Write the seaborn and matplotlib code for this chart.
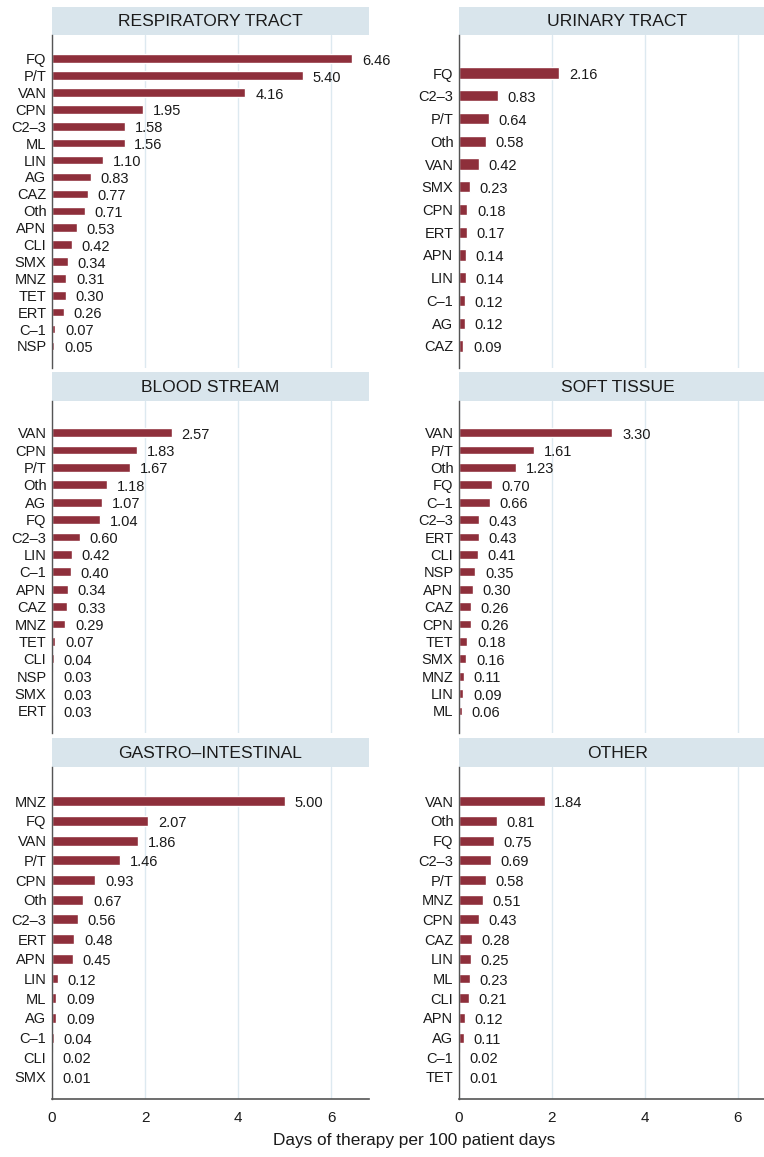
import numpy as np
import pandas as pd
import matplotlib
matplotlib.use("Agg")
import matplotlib.pyplot as plt
import seaborn as sns

# days of therapy per 100 patient days, by infection site
resp_drugs = ["FQ", "P/T", "VAN", "CPN", "C2–3", "ML", "LIN", "AG", "CAZ", "Oth",
              "APN", "CLI", "SMX", "MNZ", "TET", "ERT", "C–1", "NSP"]
resp_vals = [6.46, 5.40, 4.16, 1.95, 1.58, 1.56, 1.10, 0.83, 0.77, 0.71,
             0.53, 0.42, 0.34, 0.31, 0.30, 0.26, 0.07, 0.05]

uri_drugs = ["FQ", "C2–3", "P/T", "Oth", "VAN", "SMX", "CPN", "ERT", "APN", "LIN",
             "C–1", "AG", "CAZ"]
uri_vals = [2.16, 0.83, 0.64, 0.58, 0.42, 0.23, 0.18, 0.17, 0.14, 0.14,
            0.12, 0.12, 0.09]

blood_drugs = ["VAN", "CPN", "P/T", "Oth", "AG", "FQ", "C2–3", "LIN", "C–1", "APN",
               "CAZ", "MNZ", "TET", "CLI", "NSP", "SMX", "ERT"]
blood_vals = [2.57, 1.83, 1.67, 1.18, 1.07, 1.04, 0.60, 0.42, 0.40, 0.34,
              0.33, 0.29, 0.07, 0.04, 0.03, 0.03, 0.03]

soft_drugs = ["VAN", "P/T", "Oth", "FQ", "C–1", "C2–3", "ERT", "CLI", "NSP", "APN",
              "CAZ", "CPN", "TET", "SMX", "MNZ", "LIN", "ML"]
soft_vals = [3.30, 1.61, 1.23, 0.70, 0.66, 0.43, 0.43, 0.41, 0.35, 0.30,
             0.26, 0.26, 0.18, 0.16, 0.11, 0.09, 0.06]

gi_drugs = ["MNZ", "FQ", "VAN", "P/T", "CPN", "Oth", "C2–3", "ERT", "APN", "LIN",
            "ML", "AG", "C–1", "CLI", "SMX"]
gi_vals = [5.00, 2.07, 1.86, 1.46, 0.93, 0.67, 0.56, 0.48, 0.45, 0.12,
           0.09, 0.09, 0.04, 0.02, 0.01]

other_drugs = ["VAN", "Oth", "FQ", "C2–3", "P/T", "MNZ", "CPN", "CAZ", "LIN", "ML",
               "CLI", "APN", "AG", "C–1", "TET"]
other_vals = [1.84, 0.81, 0.75, 0.69, 0.58, 0.51, 0.43, 0.28, 0.25, 0.23,
              0.21, 0.12, 0.11, 0.02, 0.01]

panel_titles = ["RESPIRATORY TRACT", "URINARY TRACT", "BLOOD STREAM",
                "SOFT TISSUE", "GASTRO–INTESTINAL", "OTHER"]
panels = list(zip(panel_titles,
                  [resp_drugs, uri_drugs, blood_drugs, soft_drugs, gi_drugs, other_drugs],
                  [resp_vals, uri_vals, blood_vals, soft_vals, gi_vals, other_vals]))

sns.set_style("white")
plt.rcParams['font.family'] = ['Liberation Sans', 'DejaVu Sans']

W, H = 764, 1157
fig = plt.figure(figsize=(W / 100, H / 100), dpi=100)

col_x = [52, 459]
ax_w = 317
rows = [(7, 35, 368), (372, 401, 733), (738, 767, 1099)]
spacing = [16.9, 22.75, 17.4, 17.4, 19.7, 19.7]
bottom_pad = 22
xmax = ax_w / 46.5

bar_color = "#8E2F3B"
box_color = "#D9E5EC"
grid_color = "#DDE9F0"
axis_color = "#555555"


def fx(px):
    return px / W


def fy(py):
    return 1 - py / H


for k, (title, drugs, vals) in enumerate(panels):
    r, c = divmod(k, 2)
    box_top, top, bot = rows[r]
    x0 = col_x[c]

    # title strip
    tax = fig.add_axes([fx(x0), fy(top), ax_w / W, (top - box_top) / H])
    tax.set_facecolor(box_color)
    tax.set_xticks([])
    tax.set_yticks([])
    for sp in tax.spines.values():
        sp.set_visible(False)
    tax.text(0.5, 0.47, title, ha="center", va="center", fontsize=12.6, color="#1a1a1a")

    ax = fig.add_axes([fx(x0), fy(bot), ax_w / W, (bot - top) / H])
    df = pd.DataFrame({"drug": drugs, "dot": vals})
    sns.barplot(data=df, x="dot", y="drug", orient="h", color=bar_color,
                saturation=1, width=0.5, ax=ax)

    n = len(drugs)
    s = spacing[k]
    tpad = (bot - top) - bottom_pad - (n - 1) * s
    ax.set_ylim(n - 1 + bottom_pad / s, -tpad / s)
    ax.set_xlim(0, xmax)
    ax.set_xticks([0, 2, 4, 6])
    ax.grid(axis="x", color=grid_color, lw=1)
    ax.set_axisbelow(True)
    ax.set_xlabel("")
    ax.set_ylabel("")

    for i, v in enumerate(vals):
        ax.annotate(f"{v:.2f}", (v, i), xytext=(7, -1.5), textcoords="offset points",
                    ha="left", va="center", fontsize=10.5, color="#1a1a1a")

    ax.spines["top"].set_visible(False)
    ax.spines["right"].set_visible(False)
    ax.spines["left"].set_color(axis_color)
    ax.spines["left"].set_linewidth(1)
    ax.tick_params(axis="y", length=0, pad=4, labelsize=10.5, labelcolor="#1a1a1a")

    if r == 2:
        ax.spines["bottom"].set_color(axis_color)
        ax.spines["bottom"].set_linewidth(1.2)
        ax.tick_params(axis="x", length=5, width=1, color=axis_color,
                       labelsize=11, pad=4, labelcolor="#1a1a1a")
    else:
        ax.spines["bottom"].set_visible(False)
        ax.tick_params(axis="x", length=0, labelbottom=False)

fig.text(fx(414), fy(1140), "Days of therapy per 100 patient days",
         ha="center", va="center", fontsize=12.4, color="#1a1a1a")

fig.savefig("out.png", dpi=100)
